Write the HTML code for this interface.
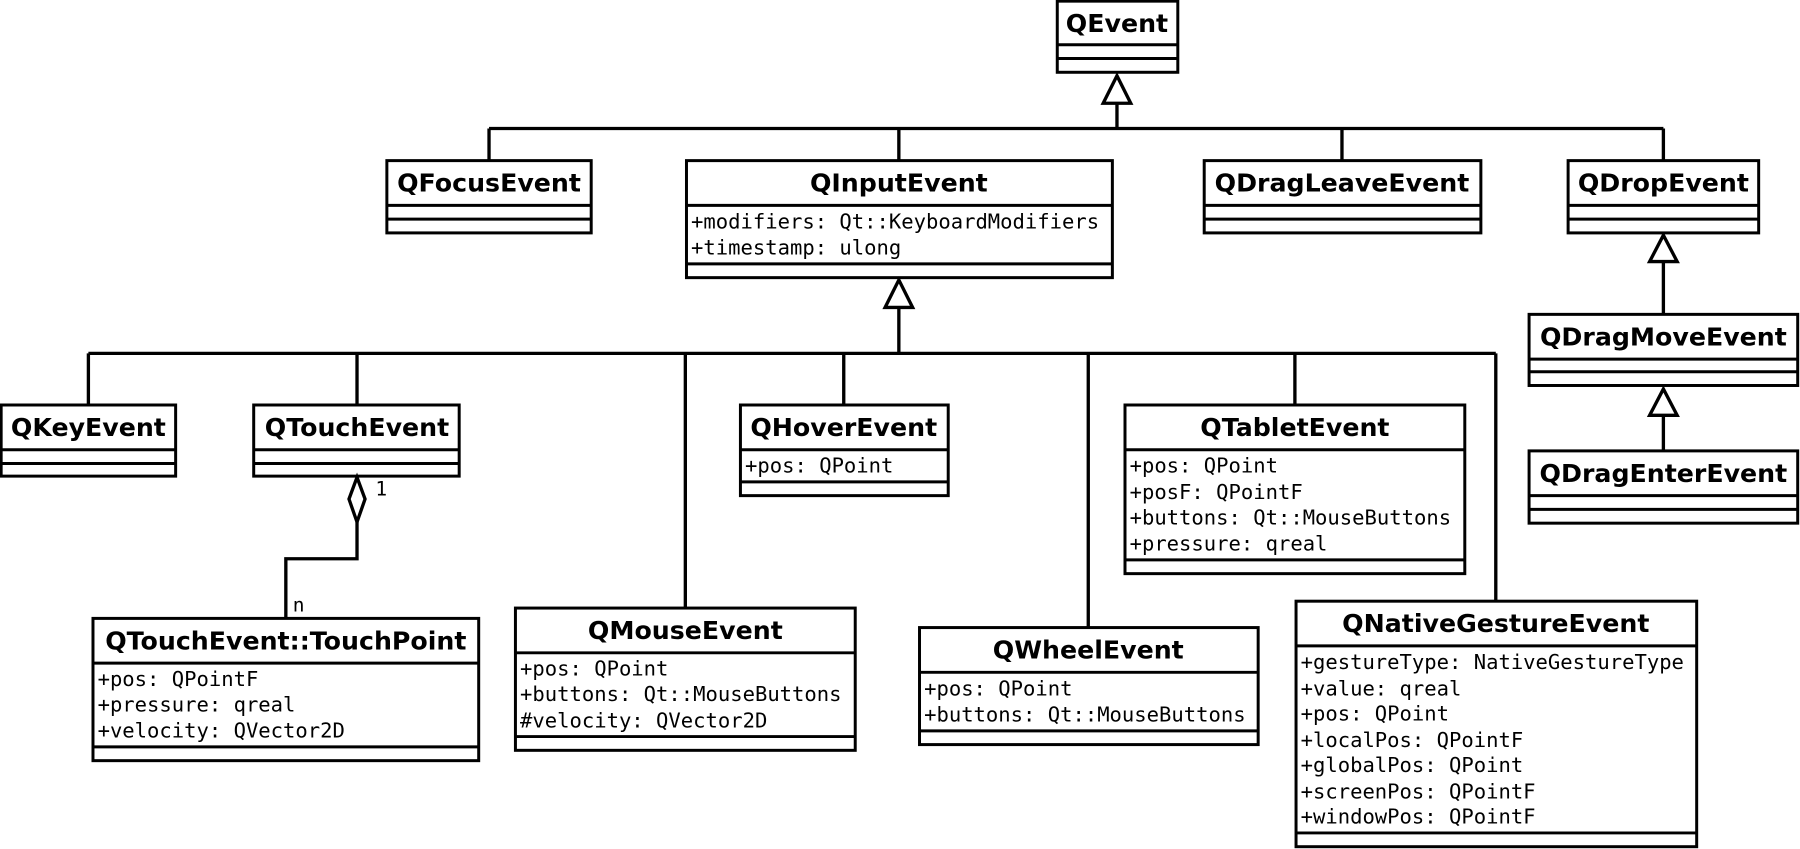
<!DOCTYPE html>
<html><head><meta charset="utf-8"><style>
html,body{margin:0;padding:0;background:#fff;}
svg{display:block;}
.t{font-family:"DejaVu Sans","Liberation Sans",sans-serif;font-weight:bold;font-size:22px;text-anchor:middle;}
.a{font-family:"DejaVu Sans Mono","Liberation Mono",monospace;font-size:17.9px;}
.l{font-family:"DejaVu Sans Mono","Liberation Mono",monospace;font-size:17px;}
</style></head><body>
<svg width="1800" height="849" viewBox="0 0 1568 740" preserveAspectRatio="none" xmlns="http://www.w3.org/2000/svg">
<g fill="none" stroke="#000" stroke-width="2.9">
<path d="M973 90V112M426 112H1449M426 112V140M783 112V140M1169 112V140M1449 112V140"/>
<path d="M783 268V308M77 308H1303M77 308V353M311 308V353M597 308V530M735 308V353M948 308V547M1128 308V353M1303 308V524"/>
<path d="M1449 228V274M1449 362V393"/>
<path d="M311 455V487H249V539"/>
<polygon points="973,66 961,90 985,90" fill="#fff"/>
<polygon points="783,244 771,268 795,268" fill="#fff"/>
<polygon points="1449,205 1437,228 1461,228" fill="#fff"/>
<polygon points="1449,339 1437,362 1461,362" fill="#fff"/>
<polygon points="311,416 318,435 311,455 304,435" fill="#fff"/>
</g>
<g fill="none" stroke="#000" stroke-width="2.6">
<rect x="921" y="1" width="105" height="62"/><path d="M921 39H1026M921 51H1026"/>
<rect x="337" y="140" width="178" height="63"/><path d="M337 179H515M337 191H515"/>
<rect x="598" y="140" width="371" height="102"/><path d="M598 179H969M598 230H969"/>
<rect x="1049" y="140" width="241" height="63"/><path d="M1049 179H1290M1049 191H1290"/>
<rect x="1366" y="140" width="166" height="63"/><path d="M1366 179H1532M1366 191H1532"/>
<rect x="1332" y="274" width="234" height="62"/><path d="M1332 313H1566M1332 324H1566"/>
<rect x="1332" y="393" width="234" height="63"/><path d="M1332 432H1566M1332 444H1566"/>
<rect x="1" y="353" width="152" height="62"/><path d="M1 392H153M1 404H153"/>
<rect x="221" y="353" width="179" height="62"/><path d="M221 392H400M221 404H400"/>
<rect x="645" y="353" width="181" height="79"/><path d="M645 392H826M645 420H826"/>
<rect x="980" y="353" width="296" height="147"/><path d="M980 392H1276M980 488H1276"/>
<rect x="81" y="539" width="336" height="124"/><path d="M81 578H417M81 651H417"/>
<rect x="449" y="530" width="296" height="124"/><path d="M449 569H745M449 642H745"/>
<rect x="801" y="547" width="295" height="102"/><path d="M801 586H1096M801 637H1096"/>
<rect x="1129" y="524" width="349" height="214"/><path d="M1129 563H1478M1129 726H1478"/>
</g>
<g fill="#000">
<text class="t" x="973" y="28">QEvent</text>
<text class="t" x="426" y="167">QFocusEvent</text>
<text class="t" x="783" y="167">QInputEvent</text>
<text class="t" x="1169" y="167">QDragLeaveEvent</text>
<text class="t" x="1449" y="167">QDropEvent</text>
<text class="t" x="1449" y="301">QDragMoveEvent</text>
<text class="t" x="1449" y="420">QDragEnterEvent</text>
<text class="t" x="77" y="380">QKeyEvent</text>
<text class="t" x="311" y="380">QTouchEvent</text>
<text class="t" x="735" y="380">QHoverEvent</text>
<text class="t" x="1128" y="380">QTabletEvent</text>
<text class="t" x="249" y="566">QTouchEvent::TouchPoint</text>
<text class="t" x="597" y="557">QMouseEvent</text>
<text class="t" x="948" y="574">QWheelEvent</text>
<text class="t" x="1303" y="551">QNativeGestureEvent</text>

<text class="a" x="602" y="199">+modifiers: Qt::KeyboardModifiers</text>
<text class="a" x="602" y="222">+timestamp: ulong</text>
<text class="a" x="649" y="412">+pos: QPoint</text>
<text class="a" x="984" y="412">+pos: QPoint</text>
<text class="a" x="984" y="435">+posF: QPointF</text>
<text class="a" x="984" y="457">+buttons: Qt::MouseButtons</text>
<text class="a" x="984" y="480">+pressure: qreal</text>
<text class="a" x="85" y="598">+pos: QPointF</text>
<text class="a" x="85" y="620">+pressure: qreal</text>
<text class="a" x="85" y="643">+velocity: QVector2D</text>
<text class="a" x="453" y="589">+pos: QPoint</text>
<text class="a" x="453" y="611">+buttons: Qt::MouseButtons</text>
<text class="a" x="453" y="634">#velocity: QVector2D</text>
<text class="a" x="805" y="606">+pos: QPoint</text>
<text class="a" x="805" y="629">+buttons: Qt::MouseButtons</text>
<text class="a" x="1133" y="583">+gestureType: NativeGestureType</text>
<text class="a" x="1133" y="606">+value: qreal</text>
<text class="a" x="1133" y="628">+pos: QPoint</text>
<text class="a" x="1133" y="651">+localPos: QPointF</text>
<text class="a" x="1133" y="673">+globalPos: QPoint</text>
<text class="a" x="1133" y="696">+screenPos: QPointF</text>
<text class="a" x="1133" y="718">+windowPos: QPointF</text>
<text class="l" x="327" y="432">1</text>
<text class="l" x="255" y="533">n</text>
</g>
</svg>
</body></html>
